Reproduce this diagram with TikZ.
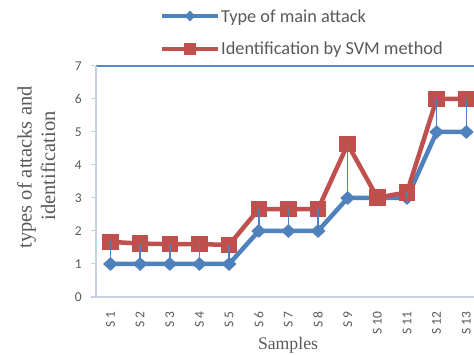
\documentclass[tikz,border=0pt]{standalone}
\usepackage{fontspec}
\setmainfont{Carlito}
\newfontfamily\serifttl{Liberation Serif}
\usetikzlibrary{shapes.geometric}
\definecolor{serblue}{HTML}{4F81BD}
\definecolor{serred}{HTML}{C0504D}
\definecolor{txtgray}{HTML}{595959}
\definecolor{axisgray}{HTML}{C6D2E2}
\definecolor{topblue}{HTML}{5A89C6}
\tikzset{
  blueline/.style={serblue, line width=4.5pt, line join=round},
  redline/.style={serred, line width=4.5pt, line join=round},
  dropline/.style={serblue, line width=1.5pt},
  bluemark/.style={diamond, fill=serblue, inner sep=0pt, minimum width=15pt, minimum height=14pt},
  redmark/.style={rectangle, fill=serred, inner sep=0pt, minimum size=16.5pt},
  legbluemark/.style={diamond, fill=serblue, inner sep=0pt, minimum width=11pt, minimum height=11pt},
  legredmark/.style={rectangle, fill=serred, inner sep=0pt, minimum size=11.5pt},
  ticklab/.style={font=\fontsize{13.5}{15}\selectfont, text=txtgray, anchor=east, inner sep=0pt},
  xlab/.style={font=\fontsize{13.5}{15}\selectfont, text=txtgray, rotate=90, anchor=east, inner sep=0pt},
  legtext/.style={font=\fontsize{18.3}{20}\selectfont, text=txtgray, anchor=base west, inner sep=0pt},
  ytitle/.style={font=\serifttl\fontsize{20.5}{23}\selectfont, text=txtgray, rotate=90, anchor=base, inner sep=0pt},
  xtitle/.style={font=\serifttl\fontsize{17.7}{20}\selectfont, text=txtgray, anchor=base, inner sep=0pt},
  axisline/.style={axisgray, line width=2pt},
  tickmark/.style={axisgray, line width=1pt},
}
\begin{document}
\begin{tikzpicture}[x=1pt, y=-1pt]
\useasboundingbox (0,0) rectangle (474,355);
\clip (0,0) rectangle (474,355);
% axes
\coordinate (axtl) at (95.5,66);
\coordinate (axbl) at (95.5,297.5);
\coordinate (axbr) at (474,297.5);
\coordinate (axtr) at (474,66);
\coordinate (axb0) at (91,297.5);
\draw[topblue, line width=1.8pt] (axtl) -- (axtr);
\draw[axisline] (axtl) -- (axbl);
\draw[axisline] (axb0) -- (axbr);
% y ticks and labels
\foreach \k in {0,...,7} {
  \coordinate (yt\k) at (91,{297-33*\k});
  \coordinate (ytb\k) at (95,{297-33*\k});
  \draw[tickmark] (yt\k) -- (ytb\k);
  \node[ticklab] (yl\k) at (82,{297-33*\k}) {\k};
}
% data coordinates
\foreach \i/\b/\r in {1/1/1.67, 2/1/1.62, 3/1/1.6, 4/1/1.6, 5/1/1.58, 6/2/2.66, 7/2/2.66, 8/2/2.66, 9/3/4.63, 10/3/3.01, 11/3/3.17, 12/5/6, 13/5/6} {
  \coordinate (b\i) at ({110.5+(\i-1)*29.65},{297-33*\b});
  \coordinate (r\i) at ({110.5+(\i-1)*29.65},{297-33*\r});
  \node[xlab] (xl\i) at ({110.5+(\i-1)*29.65},311.5) {S \i};
}
% blue series
\draw[blueline] (b1) \foreach \i in {2,...,13} { -- (b\i) };
\foreach \i in {1,...,13} { \node[bluemark] (bm\i) at (b\i) {}; }
% red series
\draw[redline] (r1) \foreach \i in {2,...,13} { -- (r\i) };
\foreach \i in {1,...,13} { \node[redmark] (rm\i) at (r\i) {}; }
% drop lines
\foreach \i in {1,...,9,11,12,13} { \draw[dropline] (b\i) -- (r\i); }
% legend
\coordinate (lba) at (162,16);
\coordinate (lbb) at (218,16);
\draw[blueline, line width=4pt] (lba) -- (lbb);
\node[legbluemark] (lbm) at (190,16) {};
\node[legtext] (lbt) at (221,22.7) {Type of main attack};
\coordinate (lra) at (162,49);
\coordinate (lrb) at (218,49);
\draw[redline, line width=4.5pt] (lra) -- (lrb);
\node[legredmark] (lrm) at (190,49) {};
\node[legtext] (lrt) at (221,55) {Identification by SVM method};
% axis titles
\node[ytitle] (yt1) at (31.7,167.5) {types of attacks and};
\node[ytitle] (yt2) at (55,166) {identification};
\node[xtitle] (xt) at (288,350) {Samples};
\end{tikzpicture}
\end{document}
